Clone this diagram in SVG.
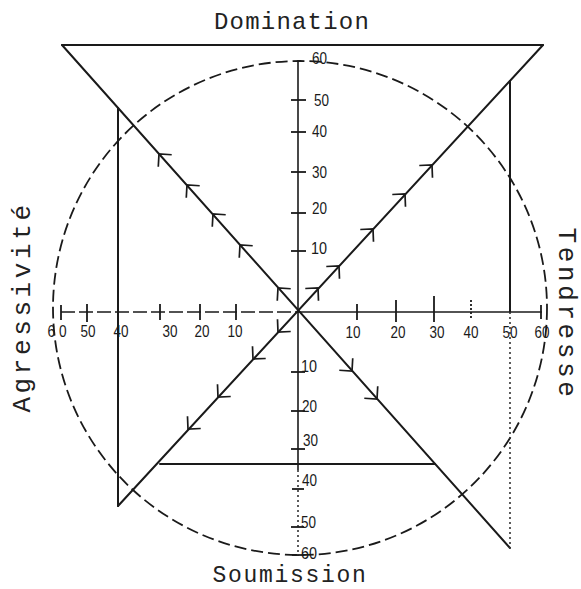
<svg xmlns="http://www.w3.org/2000/svg" xmlns:xlink="http://www.w3.org/1999/xlink" width="581" height="589" viewBox="0 0 581 589">
<style>
.ln{stroke:#1a1a1a;stroke-width:2;fill:none;stroke-linecap:round}
.thin{stroke:#1a1a1a;stroke-width:1.6;fill:none}
.dash{stroke:#1a1a1a;stroke-width:1.8;fill:none;stroke-dasharray:12 5}
.dot{stroke:#333;stroke-width:1.6;fill:none;stroke-dasharray:2 3}
.tick{stroke:#1a1a1a;stroke-width:1.8}
.ttl{font-family:"Liberation Mono","DejaVu Sans Mono",monospace;fill:#222}
.num{font-family:"Liberation Sans",Arial,sans-serif;font-size:17px;fill:#1a1a1a}
.ah{stroke:#1a1a1a;stroke-width:1.7;fill:none}
</style>
<defs>
<path id="arr" class="ah" d="M-9,-9 L0,0 L-9,9"/>
</defs>
<rect width="581" height="589" fill="#ffffff"/>

<g id="titles">
<text class="ttl" x="292" y="29" font-size="24" letter-spacing="1.2" text-anchor="middle">Domination</text>
<text class="ttl" x="290" y="582" font-size="23" letter-spacing="1.7" text-anchor="middle">Soumission</text>
<text class="ttl" font-size="26" letter-spacing="3.6" text-anchor="middle" transform="translate(30,307) rotate(-90)">Agressivité</text>
<text class="ttl" font-size="26" letter-spacing="3.6" text-anchor="middle" transform="translate(559,314) rotate(90)">Tendresse</text>
</g>

<g id="circle">
<circle cx="300" cy="308" r="247" class="dash"/>
</g>

<g id="axes">
<line x1="61" y1="312" x2="298" y2="312" class="thin" stroke-dasharray="14 4"/>
<line x1="298" y1="312" x2="542" y2="312" class="thin"/>
<line x1="298" y1="60" x2="298" y2="470" class="thin"/>
<line x1="298" y1="470" x2="298" y2="556" class="dot"/>
<line x1="61" y1="305" x2="61" y2="320" class="tick"/>
<line x1="87" y1="304" x2="87" y2="322" class="tick"/>
<line x1="160" y1="304" x2="160" y2="320" class="tick"/>
<line x1="200" y1="304" x2="200" y2="320" class="tick"/>
<line x1="236" y1="304" x2="236" y2="320" class="tick"/>
<line x1="357" y1="304" x2="357" y2="320" class="tick"/>
<line x1="396" y1="300" x2="396" y2="322" class="tick"/>
<line x1="434" y1="296" x2="434" y2="322" class="tick"/>
<line x1="471" y1="300" x2="471" y2="320" class="tick" stroke-dasharray="2 2"/>
<line x1="541" y1="305" x2="541" y2="319" class="tick"/>
<line x1="291" y1="100" x2="306" y2="100" class="tick"/>
<line x1="291" y1="132" x2="306" y2="132" class="tick"/>
<line x1="291" y1="172" x2="306" y2="172" class="tick"/>
<line x1="291" y1="213" x2="306" y2="213" class="tick"/>
<line x1="291" y1="251" x2="306" y2="251" class="tick"/>
<line x1="291" y1="372" x2="305" y2="372" class="tick"/>
<line x1="291" y1="411" x2="305" y2="411" class="tick"/>
<line x1="291" y1="449" x2="305" y2="449" class="tick"/>
<line x1="292" y1="489" x2="304" y2="489" class="tick"/>
<line x1="291" y1="527" x2="304" y2="527" class="tick"/>
<line x1="292" y1="555" x2="304" y2="555" class="tick"/>
</g>

<g id="labels">
<text class="num" x="57" y="337" text-anchor="middle" textLength="19" lengthAdjust="spacingAndGlyphs">6 0</text>
<text class="num" x="88" y="337" text-anchor="middle" textLength="15" lengthAdjust="spacingAndGlyphs">50</text>
<text class="num" x="121" y="337" text-anchor="middle" textLength="15" lengthAdjust="spacingAndGlyphs">40</text>
<text class="num" x="170" y="337" text-anchor="middle" textLength="15" lengthAdjust="spacingAndGlyphs">30</text>
<text class="num" x="202" y="337" text-anchor="middle" textLength="15" lengthAdjust="spacingAndGlyphs">20</text>
<text class="num" x="235" y="337" text-anchor="middle" textLength="15" lengthAdjust="spacingAndGlyphs">10</text>
<text class="num" x="353" y="338" text-anchor="middle" textLength="15" lengthAdjust="spacingAndGlyphs">10</text>
<text class="num" x="398" y="338" text-anchor="middle" textLength="15" lengthAdjust="spacingAndGlyphs">20</text>
<text class="num" x="437" y="338" text-anchor="middle" textLength="15" lengthAdjust="spacingAndGlyphs">30</text>
<text class="num" x="471" y="338" text-anchor="middle" textLength="15" lengthAdjust="spacingAndGlyphs">40</text>
<text class="num" x="510" y="338" text-anchor="middle" textLength="15" lengthAdjust="spacingAndGlyphs">50</text>
<text class="num" x="542" y="338" text-anchor="middle" textLength="15" lengthAdjust="spacingAndGlyphs">60</text>
<text class="num" x="312" y="64" textLength="15" lengthAdjust="spacingAndGlyphs">60</text>
<text class="num" x="314" y="106" textLength="15" lengthAdjust="spacingAndGlyphs">50</text>
<text class="num" x="312" y="137" textLength="15" lengthAdjust="spacingAndGlyphs">40</text>
<text class="num" x="312" y="178" textLength="15" lengthAdjust="spacingAndGlyphs">30</text>
<text class="num" x="312" y="214" textLength="15" lengthAdjust="spacingAndGlyphs">20</text>
<text class="num" x="311" y="254" textLength="16" lengthAdjust="spacingAndGlyphs">10</text>
<text class="num" x="301" y="372" textLength="16" lengthAdjust="spacingAndGlyphs">10</text>
<text class="num" x="302" y="412" textLength="15" lengthAdjust="spacingAndGlyphs">20</text>
<text class="num" x="303" y="446" textLength="15" lengthAdjust="spacingAndGlyphs">30</text>
<text class="num" x="302" y="486" textLength="15" lengthAdjust="spacingAndGlyphs">40</text>
<text class="num" x="301" y="528" textLength="15" lengthAdjust="spacingAndGlyphs">50</text>
<text class="num" x="301" y="559" textLength="16" lengthAdjust="spacingAndGlyphs">60</text>
</g>

<g id="connectors">
<line x1="62" y1="45" x2="543" y2="45" class="ln"/>
<line x1="62" y1="45" x2="510" y2="548" class="ln"/>
<line x1="543" y1="45" x2="118" y2="506" class="ln"/>
<line x1="118" y1="108" x2="118" y2="506" class="ln"/>
<line x1="510" y1="81" x2="510" y2="312" class="ln"/>
<line x1="510" y1="312" x2="510" y2="548" class="dot"/>
<line x1="160" y1="464" x2="435" y2="464" class="ln"/>
<use xlink:href="#arr" transform="translate(159,154) rotate(228.3)"/>
<use xlink:href="#arr" transform="translate(187,185) rotate(228.3)"/>
<use xlink:href="#arr" transform="translate(213,214) rotate(228.3)"/>
<use xlink:href="#arr" transform="translate(240,245) rotate(228.3)"/>
<use xlink:href="#arr" transform="translate(278,288) rotate(228.3)"/>
<use xlink:href="#arr" transform="translate(318,288) rotate(-47.2)"/>
<use xlink:href="#arr" transform="translate(339,266) rotate(-47.2)"/>
<use xlink:href="#arr" transform="translate(373,229) rotate(-47.2)"/>
<use xlink:href="#arr" transform="translate(405,194) rotate(-47.2)"/>
<use xlink:href="#arr" transform="translate(432,165) rotate(-47.2)"/>
<use xlink:href="#arr" transform="translate(278,332) rotate(132.7)"/>
<use xlink:href="#arr" transform="translate(253,359) rotate(132.7)"/>
<use xlink:href="#arr" transform="translate(218,397) rotate(132.7)"/>
<use xlink:href="#arr" transform="translate(188,429) rotate(132.7)"/>
<use xlink:href="#arr" transform="translate(352,371) rotate(48.3)"/>
<use xlink:href="#arr" transform="translate(377,399) rotate(48.3)"/>
</g>
</svg>
